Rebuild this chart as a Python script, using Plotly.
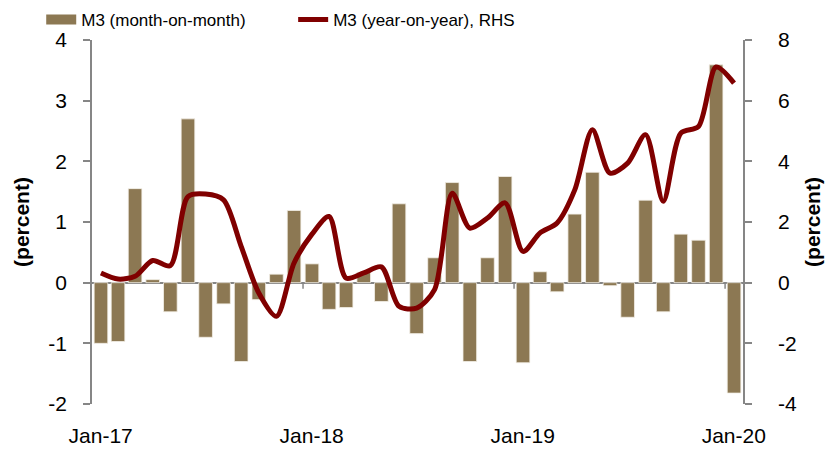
import pandas as pd
import plotly.graph_objects as go

# monthly M3 data, Jan-17 .. Jan-20
months = pd.date_range('2017-01-01', periods=37, freq='MS')

m3_mom = [-1.00, -0.97, 1.55, 0.05, -0.48, 2.70, -0.90, -0.35, -1.30, -0.28, 0.14, 1.19,
          0.31, -0.44, -0.41, 0.17, -0.31, 1.30, -0.84, 0.41, 1.65, -1.30, 0.41, 1.75,
          -1.32, 0.18, -0.15, 1.13, 1.82, -0.05, -0.57, 1.36, -0.48, 0.80, 0.70, 3.59,
          -1.82]

m3_yoy = [0.32, 0.12, 0.21, 0.73, 0.56, 2.84, 2.92, 2.73, 1.20, -0.34, -1.11, 0.65,
          1.60, 2.18, 0.15, 0.32, 0.52, -0.78, -0.84, -0.23, 2.95, 1.80, 2.13, 2.63,
          1.03, 1.64, 1.97, 3.06, 5.04, 3.61, 3.94, 4.88, 2.68, 4.93, 5.15, 7.11,
          6.58]

year_starts = ['2017-01-01', '2018-01-01', '2019-01-01', '2020-01-01']
tick_labels = ['Jan-17', 'Jan-18', 'Jan-19', 'Jan-20']
left_ticks = [-2, -1, 0, 1, 2, 3, 4]
right_ticks = [-4, -2, 0, 2, 4, 6, 8]

bar_color = '#8C7853'
line_color = '#800000'
axis_color = '#868686'
font_family = 'Liberation Sans, Arial, sans-serif'

# labels sit in the middle of the January bar, tick marks on the boundaries
label_pos = [pd.Timestamp(d) + pd.Timedelta(days=15) for d in year_starts]

fig = go.Figure()
fig.add_trace(go.Bar(
    x=months, y=m3_mom, name='M3 (month-on-month)', showlegend=False,
    xperiod='M1', xperiodalignment='middle',
    marker=dict(color=bar_color, line=dict(color='#F4F0E8', width=0.8)),
))
# legend-only entry so the bar swatch is drawn as a wide block like the original
fig.add_trace(go.Scatter(
    x=[None], y=[None], name='M3 (month-on-month)', mode='lines',
    line=dict(color=bar_color, width=12), legend='legend',
))
fig.add_trace(go.Scatter(
    x=months, y=m3_yoy, name='M3 (year-on-year), RHS', yaxis='y2',
    xperiod='M1', xperiodalignment='middle', legend='legend2',
    mode='lines', line=dict(color=line_color, width=5, shape='spline', smoothing=0.8),
))

# small tick marks on the zero line at year boundaries
for d in year_starts[1:]:
    fig.add_shape(type='line', xref='x', yref='y', x0=d, x1=d, y0=0, y1=-0.1,
                  line=dict(color=axis_color, width=1.5))

legend_style = dict(orientation='h', y=1.055, xanchor='left', yanchor='middle',
                    font=dict(size=17), bgcolor='rgba(0,0,0,0)')

fig.update_layout(
    width=834, height=450,
    margin=dict(l=84, r=99, t=32, b=54, autoexpand=False),
    plot_bgcolor='white', paper_bgcolor='white',
    font=dict(family=font_family, size=21, color='black'),
    bargap=0.2,
    showlegend=True,
    legend=dict(x=-0.078, **legend_style),
    legend2=dict(x=0.309, **legend_style),
    xaxis=dict(
        type='date', range=['2017-01-01', '2020-02-01'],
        tickvals=label_pos, ticktext=tick_labels,
        showline=False, ticks='', showgrid=False, zeroline=False,
        ticklabelstandoff=17,
    ),
    yaxis=dict(
        range=[-2, 4], tickvals=left_ticks, ticktext=[str(v) for v in left_ticks],
        showgrid=False,
        showline=True, linecolor=axis_color, linewidth=1.5,
        ticks='outside', tickcolor=axis_color, ticklen=7, tickwidth=1.5,
        ticklabelstandoff=12,
        zeroline=True, zerolinecolor=axis_color, zerolinewidth=1.5,
        title=dict(text='<b>(percent)</b>', standoff=13, font=dict(size=21)),
    ),
    yaxis2=dict(
        range=[-4, 8], tickvals=right_ticks, ticktext=[str(v) for v in right_ticks],
        overlaying='y', side='right', showgrid=False,
        showline=True, linecolor=axis_color, linewidth=1.5,
        ticks='outside', tickcolor=axis_color, ticklen=7, tickwidth=1.5,
        ticklabelstandoff=22,
        zeroline=False,
        title=dict(text='<b>(percent)</b>', standoff=9, font=dict(size=21)),
    ),
)

fig.write_html('out.html')
